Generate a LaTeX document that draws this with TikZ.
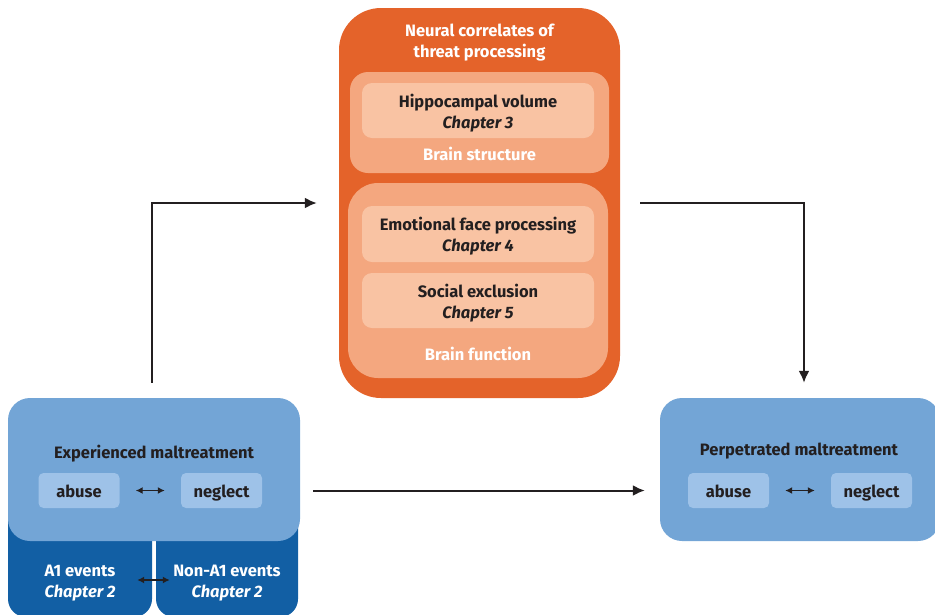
\documentclass[tikz,border=0pt]{standalone}
\usepackage{fontspec}
\setmainfont{Fira Sans}
\usepackage{xcolor}
\usetikzlibrary{arrows.meta}
\definecolor{threat}{HTML}{E4632A}
\definecolor{brainbox}{HTML}{F4A77F}
\definecolor{studybox}{HTML}{F9C3A3}
\definecolor{maltblue}{HTML}{73A5D6}
\definecolor{typeblue}{HTML}{9EC2E8}
\definecolor{eventblue}{HTML}{125FA4}
\definecolor{ink}{HTML}{231F20}

\begin{document}
\begin{tikzpicture}[x=1pt, y=-1pt, every node/.style={inner sep=0pt, font=\fontsize{16.5}{21}\selectfont\bfseries},%
        box/.style={rounded corners=#1, minimum width=0, draw=none}, box/.default=20pt,
        txt/.style={text=ink, align=center}, wtxt/.style={text=white, align=center},
        typebox/.style={box=5pt, fill=typeblue, minimum width=81pt, minimum height=35pt, txt, text height=13pt, text depth=0pt},
        flow/.style={line width=2pt, ink, -{Latex[length=12pt,width=11pt]}},
        twoway/.style={line width=1.6pt, ink, {Latex[length=7pt,width=7pt]}-{Latex[length=7pt,width=7pt]}}]
    \useasboundingbox (0,0) rectangle (935,614);
    % experienced maltreatment with trauma type underneath
    \node[box=18pt, fill=eventblue, minimum width=144pt, minimum height=118pt] (a1) at (80,558) {};
    \node[box=18pt, fill=eventblue, minimum width=142pt, minimum height=118pt] (nona1) at (227,558) {};
    \node[box=22pt, fill=maltblue, minimum width=292pt, minimum height=143pt] (exp) at (154,469.5) {};
    \node[txt] at (154,453.5) {Experienced maltreatment};
    \node[typebox] (eab) at (79,490.5) {abuse};
    \node[typebox] (eneg) at (221.5,490.5) {neglect};
    \node[wtxt] (a1txt) at (80,583) {A1 events\\\itshape Chapter 2};
    \node[wtxt] (nona1txt) at (227,583) {Non-A1 events\\\itshape Chapter 2};
    % neural correlates
    \node[box=42pt, fill=threat, minimum width=281pt, minimum height=390pt] (neural) at (479.5,203) {};
    \node[wtxt] at (479.5,43) {Neural correlates of\\threat processing};
    \node[box=18pt, fill=brainbox, minimum width=259pt, minimum height=101pt] (struct) at (479.5,122.5) {};
    \node[box=10pt, fill=studybox, minimum width=232pt, minimum height=55pt] (hippo) at (478,110.5) {};
    \node[txt] at (478,113) {Hippocampal volume\\\itshape Chapter 3};
    \node[wtxt] at (479.5,154) {Brain structure};
    \node[box=30pt, fill=brainbox, minimum width=260pt, minimum height=195pt] (func) at (478,280.5) {};
    \node[box=10pt, fill=studybox, minimum width=232pt, minimum height=56pt] (face) at (478,234) {};
    \node[txt] at (478,236.5) {Emotional face processing\\\itshape Chapter 4};
    \node[box=10pt, fill=studybox, minimum width=232pt, minimum height=55pt] (social) at (478,300.5) {};
    \node[txt] at (478,303) {Social exclusion\\\itshape Chapter 5};
    \node[wtxt] at (478,354) {Brain function};
    % perpetrated maltreatment
    \node[box=22pt, fill=maltblue, minimum width=280pt, minimum height=143pt] (perp) at (800,469.5) {};
    \node[txt] at (799,451.5) {Perpetrated maltreatment};
    \node[typebox] (pab) at (728.5,490.5) {abuse};
    \node[typebox] (pneg) at (871.5,490.5) {neglect};
    % connectors
    \draw[twoway] ([xshift=16pt]eab.east) -- ([xshift=-16pt]eneg.west);
    \draw[twoway] ([xshift=16pt]pab.east) -- ([xshift=-16pt]pneg.west);
    \draw[twoway] ([xshift=-15pt]a1.east |- 0,580) -- ([xshift=14pt]nona1.west |- 0,580);
    \draw[flow] ([shift={(-2pt,15pt)}]exp.north) |- ([xshift=-22pt]neural.west);
    \draw[flow] ([xshift=20pt]neural.east) -| ([shift={(4pt,15pt)}]perp.north);
    \draw[flow] ([xshift=13pt]exp.east |- eneg) -- ([xshift=-15pt]perp.west |- pab);
\end{tikzpicture}
\end{document}
